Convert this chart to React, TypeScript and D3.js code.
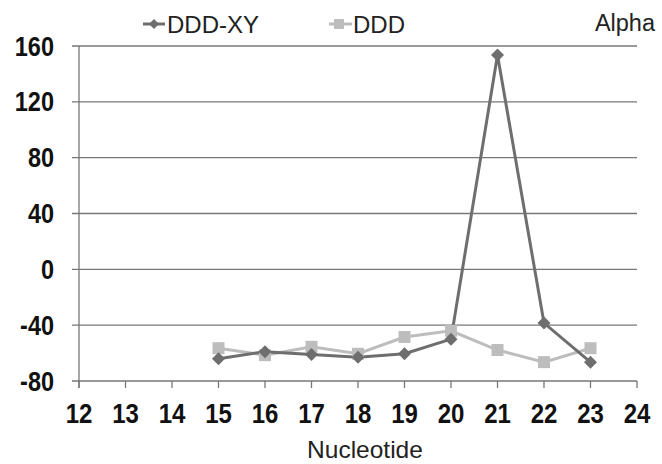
import React from "react";
import * as d3 from "d3";

const nucleotides = [15, 16, 17, 18, 19, 20, 21, 22, 23];
const dddxy = [-64, -59, -61, -63, -60.5, -50, 153.5, -38.5, -66.5];
const ddd = [-56.5, -61.5, -55.5, -60.5, -48.5, -44, -57.8, -66.5, -56.5];
const xTicks = d3.range(12, 25);
const yTicks = [-80, -40, 0, 40, 80, 120, 160];

const W = 662, H = 464;
const left = 79, right = 637, top = 46, bottom = 381;
const DARK = "#6e6e6e";
const LIGHT = "#bdbdbd";
const FONT = "Liberation Sans, Arial, sans-serif";

export default function App() {
  const x = d3.scaleLinear().domain([12, 24]).range([left, right]);
  const y = d3.scaleLinear().domain([-80, 160]).range([bottom, top]);
  const line = d3.line<number>().x((_, i) => x(nucleotides[i])).y((d) => y(d));
  const diamond = (cx: number, cy: number, r: number) =>
    `M${cx},${cy - r}L${cx + r},${cy}L${cx},${cy + r}L${cx - r},${cy}Z`;
  return (
    <svg width={W} height={H} style={{ position: "absolute", left: 0, top: 0, background: "#fff" }}>
      <rect width={W} height={H} fill="#fff" />
      {yTicks.map((t) => (
        <g key={t}>
          <line x1={left - 7} x2={right} y1={y(t)} y2={y(t)} stroke="#777" strokeWidth={1.3} />
          <g transform={`translate(54,${y(t) + 9.5}) scale(0.87,1)`}>
            <text textAnchor="end" fontFamily={FONT} fontWeight="bold" fontSize={27} fill="#111">{t}</text>
          </g>
        </g>
      ))}
      <line x1={left} x2={left} y1={top} y2={bottom + 7} stroke="#777" strokeWidth={1.3} />
      {xTicks.map((t) => (
        <g key={t}>
          <line x1={x(t)} x2={x(t)} y1={bottom} y2={bottom + 7} stroke="#777" strokeWidth={1.3} />
          <g transform={`translate(${x(t)},423) scale(0.89,1)`}>
            <text textAnchor="middle" fontFamily={FONT} fontWeight="bold" fontSize={27} fill="#111">{t}</text>
          </g>
        </g>
      ))}
      <text x={365} y={458} textAnchor="middle" fontFamily={FONT} fontSize={24.5} fill="#222">Nucleotide</text>
      <text x={655} y={31} textAnchor="end" fontFamily={FONT} fontSize={23.5} fill="#222">Alpha</text>
      <path d={line(ddd) || ""} fill="none" stroke={LIGHT} strokeWidth={3} />
      <path d={line(dddxy) || ""} fill="none" stroke={DARK} strokeWidth={3} />
      {ddd.map((v, i) => (
        <rect key={"s" + i} x={x(nucleotides[i]) - 6} y={y(v) - 6} width={12} height={12} fill={LIGHT} />
      ))}
      {dddxy.map((v, i) => (
        <path key={"d" + i} d={diamond(x(nucleotides[i]), y(v), 6.5)} fill={DARK} />
      ))}
      {/* legend */}
      <line x1={143} x2={165} y1={24} y2={24} stroke={DARK} strokeWidth={3} />
      <path d={diamond(154, 24, 5)} fill={DARK} />
      <text x={167} y={33} fontFamily={FONT} fontSize={24} fill="#222">DDD-XY</text>
      <line x1={329} x2={352} y1={24} y2={24} stroke={LIGHT} strokeWidth={3} />
      <rect x={334} y={19} width={10} height={10} fill={LIGHT} />
      <text x={353} y={33} fontFamily={FONT} fontSize={24} fill="#222">DDD</text>
    </svg>
  );
}
